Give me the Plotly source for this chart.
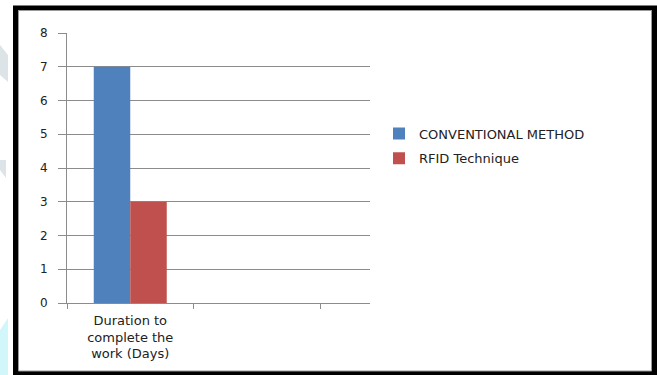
import plotly.graph_objects as go

categories = ["Duration to<br>complete the<br>work (Days)", " ", "  "]
series_names = ["CONVENTIONAL METHOD", "RFID Technique"]
conventional = [7, None, None]
rfid = [3, None, None]
y_ticks = [0, 1, 2, 3, 4, 5, 6, 7, 8]

W, H = 657, 375
L, R, T, B = 67, 287, 33, 72
pw, ph = W - L - R, H - T - B

def px(x):
    return (x - L) / pw

def py(y):
    return 1 - (y - T) / ph

fig = go.Figure()
fig.add_trace(go.Bar(x=categories, y=conventional, name=series_names[0],
                     marker=dict(color="#4F81BD", line=dict(width=0)), legendgroup="a"))
fig.add_trace(go.Bar(x=categories, y=rfid, name=series_names[1],
                     marker=dict(color="#C0504D", line=dict(width=0)), legendgroup="b"))

cat_w = 126.5
fig.update_layout(
    width=W, height=H,
    margin=dict(l=L, r=R, t=T, b=B, pad=0),
    paper_bgcolor="white", plot_bgcolor="white",
    barmode="group", bargap=0.423, bargroupgap=0,
    font=dict(family="DejaVu Sans", size=13, color="#222"),
    showlegend=True,
    legend=dict(x=px(379), xanchor="left", y=py(146), yanchor="middle",
                font=dict(size=13, color="#222"), tracegroupgap=5,
                bgcolor="rgba(0,0,0,0)"),
    xaxis=dict(type="category", range=[-0.5, -0.5 + pw / cat_w],
               showline=True, linecolor="#8c8c8c", linewidth=1,
               ticks="outside", tickson="boundaries", ticklen=5, tickcolor="#8c8c8c",
               showgrid=False, tickfont=dict(size=13, color="#222"), tickangle=0,
               ticklabelstandoff=5),
    yaxis=dict(range=[0, 8], tickvals=y_ticks, showline=True, linecolor="#8c8c8c",
               linewidth=1, ticks="outside", ticklen=8, tickcolor="#8c8c8c",
               showgrid=True, gridcolor="#8c8c8c", gridwidth=1, zeroline=False,
               tickfont=dict(size=12, color="#222"), ticklabelstandoff=8),
)

shapes = []
# faint watermark fragments at the left edge
shapes.append(dict(type="path", xref="paper", yref="paper", layer="below",
                   path=f"M {px(0)} {py(45)} L {px(8)} {py(55)} L {px(8)} {py(82)} L {px(0)} {py(75)} Z",
                   fillcolor="#dde4e7", line=dict(width=0)))
shapes.append(dict(type="path", xref="paper", yref="paper", layer="below",
                   path=f"M {px(0)} {py(160)} L {px(6)} {py(160)} L {px(6)} {py(178)} L {px(0)} {py(170)} Z",
                   fillcolor="#dde4e7", line=dict(width=0)))
shapes.append(dict(type="path", xref="paper", yref="paper", layer="below",
                   path=f"M {px(0)} {py(330)} L {px(8)} {py(318)} L {px(8)} {py(375)} L {px(0)} {py(375)} Z",
                   fillcolor="#d2f7fa", line=dict(width=0)))
# black frame
shapes.append(dict(type="rect", xref="paper", yref="paper",
                   x0=px(15.5), x1=px(654.5), y0=py(373.5), y1=py(8),
                   line=dict(color="black", width=5), fillcolor="rgba(0,0,0,0)"))
shapes.append(dict(type="rect", xref="paper", yref="paper",
                   x0=px(18.5), x1=px(651.5), y0=py(371), y1=py(10.5),
                   line=dict(color="#9a9a9a", width=1), fillcolor="rgba(0,0,0,0)"))
fig.update_layout(shapes=shapes)

fig.write_html("out.html")
